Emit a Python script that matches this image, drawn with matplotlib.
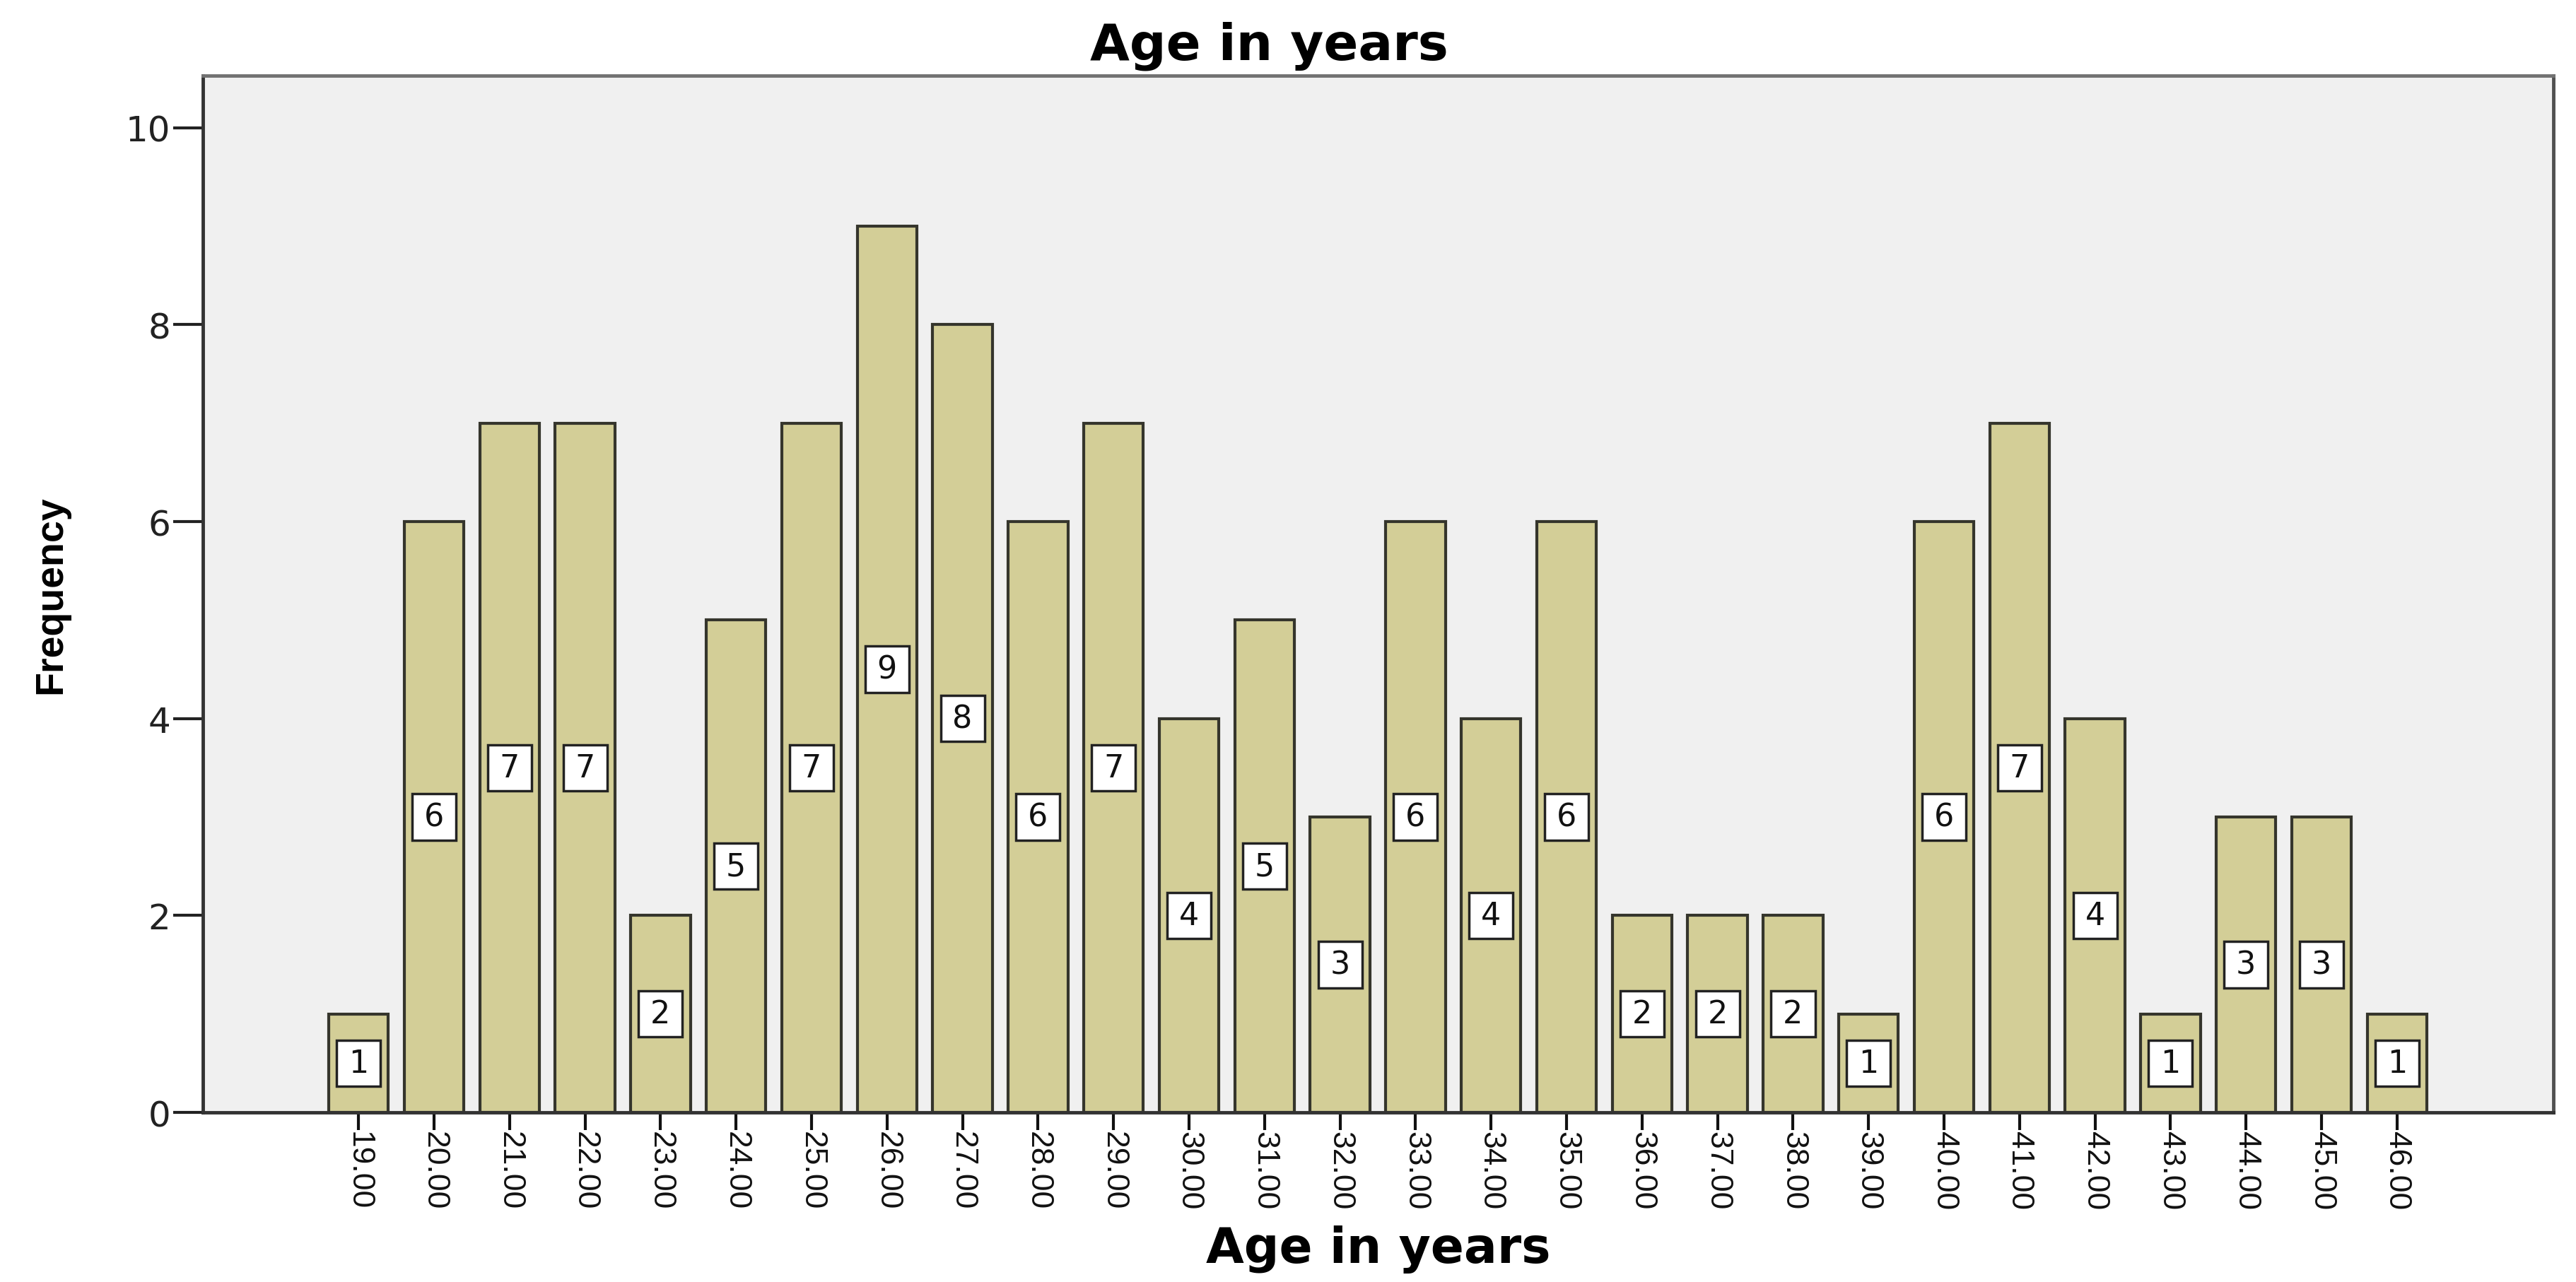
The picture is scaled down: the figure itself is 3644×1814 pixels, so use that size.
import matplotlib
matplotlib.use("Agg")
import matplotlib.pyplot as plt
from matplotlib.path import Path

# frequencies of age (SPSS style bar chart)
ages = list(range(19, 47))
counts = [1, 6, 7, 7, 2, 5, 7, 9, 8, 6, 7, 4, 5, 3, 6, 4, 6, 2, 2, 2, 1, 6, 7, 4, 1, 3, 3, 1]
tick_labels = ["%.2f" % a for a in ages]
y_ticks = [0, 2, 4, 6, 8, 10]

title = "Age in years"
x_title = "Age in years"
y_title = "Frequency"

bar_color = "#D3CE97"
narrow = ["Liberation Sans", "DejaVu Sans"]


def label_box(x0, y0, width, height, mutation_size):
    # white box around the count, wider than plain square padding
    px = 0.38 * mutation_size
    py = 0.25 * mutation_size
    x0 -= px
    y0 -= py
    x1 = x0 + width + 2 * px
    y1 = y0 + height + 2 * py
    return Path([(x0, y0), (x1, y0), (x1, y1), (x0, y1), (x0, y0)], closed=True)


fig = plt.figure(figsize=(36.44, 18.15), dpi=100)
ax = fig.add_axes([0.0788, 0.1322, 0.9124, 0.8083])
ax.set_facecolor("#F0F0F0")

ax.bar(ages, counts, width=0.79, color=bar_color, edgecolor="#35352c", linewidth=3, zorder=2)

for a, c in zip(ages, counts):
    ax.text(a, c / 2, str(c), ha="center", va="center", fontsize=32,
            family="DejaVu Sans", color="#111111", zorder=3,
            bbox=dict(boxstyle=label_box, fc="white", ec="#222222", lw=2.5))

ax.set_xlim(ages[0] - 2.06, ages[-1] + 2.07)
ax.set_ylim(0, 10.53)

ax.set_xticks(ages)
ax.set_xticklabels(tick_labels, rotation=-90, fontsize=32, family=narrow, color="#111111")
ax.set_yticks(y_ticks)
ax.set_yticklabels([str(t) for t in y_ticks], fontsize=36, family="DejaVu Sans", color="#222222")
ax.tick_params(axis="x", length=18, width=3, pad=1, color="#111111")
ax.tick_params(axis="y", length=30, width=3, pad=3, color="#222222")

for side in ["left", "bottom"]:
    ax.spines[side].set_color("#333333")
    ax.spines[side].set_linewidth(3.5)
ax.spines["right"].set_color("#505050")
ax.spines["right"].set_linewidth(3.5)
ax.spines["top"].set_color("#727272")
ax.spines["top"].set_linewidth(3.5)

ax.set_title(title, x=0.4535, pad=17, fontsize=52, fontweight="bold", family="DejaVu Sans")

ax.set_xlabel(x_title, fontsize=50, fontweight="bold", family="DejaVu Sans")
ax.xaxis.label.set_va("baseline")
ax.xaxis.set_label_coords(0.5, -0.1445)

ax.set_ylabel(y_title, fontsize=40, fontweight="bold", family=narrow)
ax.yaxis.label.set_va("center")
ax.yaxis.set_label_coords(-0.0647, 0.5)

fig.savefig("out.png", dpi=100, facecolor="white")
